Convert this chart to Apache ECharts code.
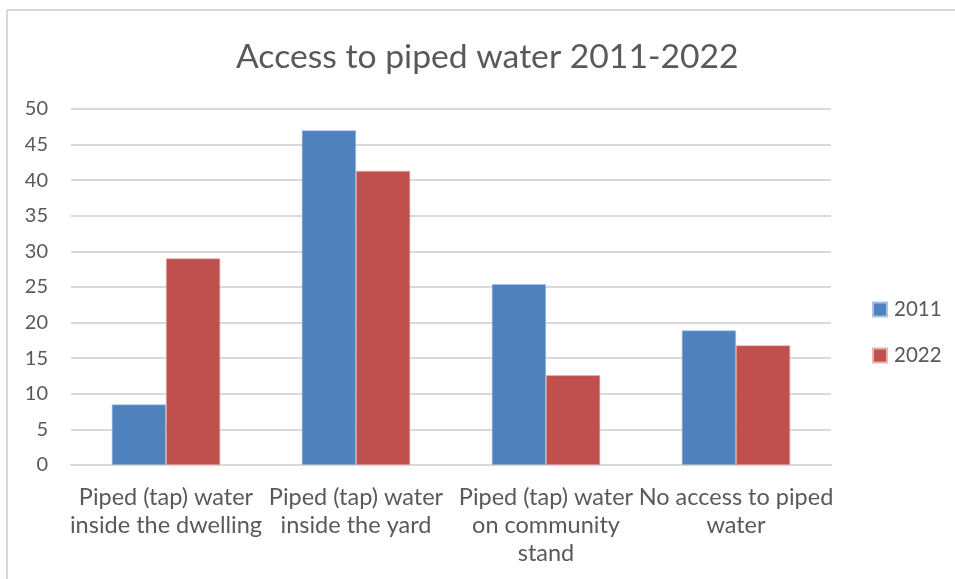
<!DOCTYPE html>
<html>
<head>
<meta charset="utf-8">
<title>Access to piped water 2011-2022</title>
<script src="https://cdn.jsdelivr.net/npm/echarts@6/dist/echarts.min.js"></script>
<style>
  html, body { margin: 0; padding: 0; background: #fff; }
  #chart { width: 955px; height: 579px; }
</style>
</head>
<body>
<div id="chart"></div>
<script>
// Share of households by source of piped water (%)
const categories = [
  'Piped (tap) water\ninside the dwelling',
  'Piped (tap) water\ninside the yard',
  'Piped (tap) water\non community\nstand',
  'No access to piped\nwater'
];
const values2011 = [8.5, 47.0, 25.4, 18.9];
const values2022 = [29.0, 41.3, 12.6, 16.8];
const yTicks = [0, 5, 10, 15, 20, 25, 30, 35, 40, 45, 50];

const FONT = 'Lato, "Open Sans", "Liberation Sans", sans-serif';
const TEXT = '#595959';

const chart = echarts.init(document.getElementById('chart'), null, { renderer: 'canvas' });

chart.setOption({
  animation: false,
  backgroundColor: '#ffffff',
  title: {
    text: 'Access to piped water 2011-2022',
    left: 236,
    top: 40,
    padding: 0,
    textStyle: { fontFamily: FONT, fontSize: 33.7, fontWeight: 'normal', color: TEXT }
  },
  legend: {
    orient: 'vertical',
    left: 872,
    top: 299,
    padding: 0,
    itemWidth: 14,
    itemHeight: 14,
    itemGap: 25,
    icon: 'rect',
    textStyle: { fontFamily: FONT, fontSize: 20.5, lineHeight: 20, color: TEXT, padding: [0, 0, 0, 2] },
    data: ['2011', '2022']
  },
  grid: { left: 71, right: 124, top: 109, bottom: 114, containLabel: false },
  xAxis: {
    type: 'category',
    data: categories,
    axisLine: { show: true, lineStyle: { color: '#d9d9d9', width: 2 } },
    axisTick: { show: false },
    axisLabel: {
      interval: 0,
      margin: 18,
      fontFamily: FONT,
      fontSize: 23.5,
      lineHeight: 28,
      color: TEXT,
      align: 'center'
    }
  },
  yAxis: {
    type: 'value',
    min: yTicks[0],
    max: yTicks[yTicks.length - 1],
    interval: yTicks[1] - yTicks[0],
    axisLine: { show: false },
    axisTick: { show: false },
    axisLabel: { margin: 23, fontFamily: FONT, fontSize: 20, color: TEXT },
    splitLine: { lineStyle: { color: '#d9d9d9', width: 2 } }
  },
  series: [
    {
      name: '2011',
      type: 'bar',
      data: values2011,
      barGap: '0%',
      barCategoryGap: '43%',
      itemStyle: { color: '#4f81bd', borderColor: '#a9c3e3', borderWidth: 0.6 }
    },
    {
      name: '2022',
      type: 'bar',
      data: values2022,
      barGap: '0%',
      barCategoryGap: '43%',
      itemStyle: { color: '#c0504d', borderColor: '#e7b3b1', borderWidth: 0.6 }
    }
  ],
  graphic: [
    // outer chart frame (top and left edges)
    { type: 'line', shape: { x1: 7, y1: 10, x2: 955, y2: 10 }, style: { stroke: '#d9d9d9', lineWidth: 2 }, silent: true },
    { type: 'line', shape: { x1: 7, y1: 10, x2: 7, y2: 579 }, style: { stroke: '#d9d9d9', lineWidth: 2 }, silent: true }
  ]
});
</script>
</body>
</html>
